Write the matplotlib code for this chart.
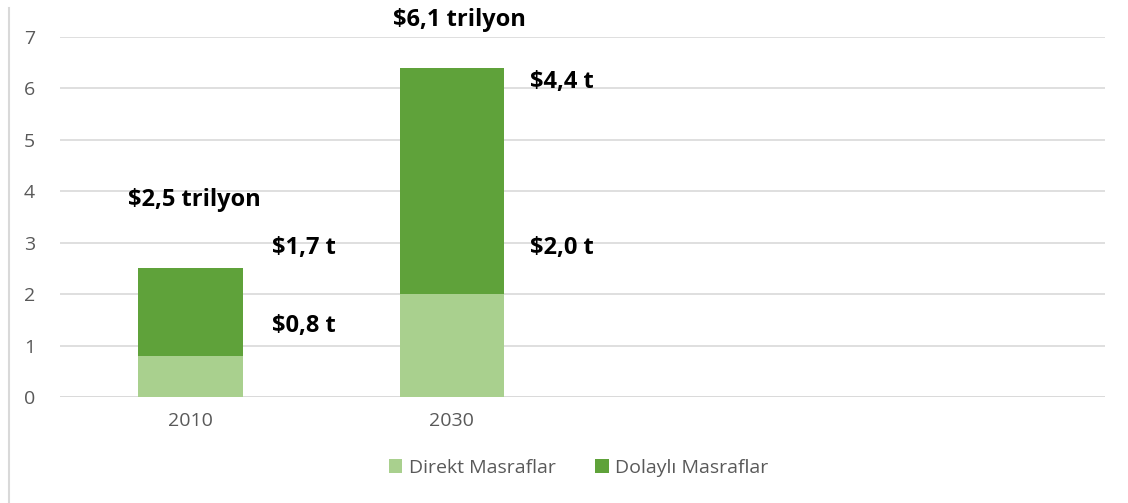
import matplotlib.pyplot as plt
import matplotlib.lines as mlines

# data
years = ['2010', '2030', '', '']
direkt = [0.8, 2.0]
dolayli = [1.7, 4.4]
total_labels = ['$2,5 trilyon', '$6,1 trilyon']
direkt_labels = ['$0,8 t', '$2,0 t']
dolayli_labels = ['$1,7 t', '$4,4 t']

c_light = '#A9D08E'
c_dark = '#5FA23A'
grid_c = '#D9D9D9'
tick_c = '#595959'

plt.rcParams['font.family'] = ['Open Sans', 'DejaVu Sans']

fig = plt.figure(figsize=(11.28, 5.03), dpi=100)
ax = fig.add_axes([60/1128, 1-397/503, 1045/1128, 360/503])

x = list(range(len(direkt)))
ax.bar(x, direkt, width=0.4, color=c_light, zorder=2, label='Direkt Masraflar')
ax.bar(x, dolayli, width=0.4, bottom=direkt, color=c_dark, zorder=2, label='Dolaylı Masraflar')

ax.set_xlim(-0.5, len(years) - 0.5)
ax.set_ylim(0, 7)
ax.set_yticks(range(8))
ax.set_xticks(range(len(years)))
ax.set_xticklabels(years)
ax.yaxis.grid(True, color=grid_c, linewidth=1.2, zorder=0)
for s in ax.spines.values():
    s.set_visible(False)
ax.axhline(0, color=grid_c, linewidth=1.2, zorder=1)
ax.tick_params(axis='both', length=0, colors=tick_c, labelsize=14)
ax.tick_params(axis='y', pad=18)
ax.tick_params(axis='x', pad=11)

bold = dict(fontsize=17, fontweight='bold', color='black')
# label positions
ax.text(0.015, 3.83, total_labels[0], ha='center', va='center', **bold)
ax.text(1.03, 7.33, total_labels[1], ha='center', va='center', clip_on=False, **bold)
ax.text(0.31, 2.9, dolayli_labels[0], ha='left', va='center', **bold)
ax.text(0.31, 1.38, direkt_labels[0], ha='left', va='center', **bold)
ax.text(1.30, 6.13, dolayli_labels[1], ha='left', va='center', **bold)
ax.text(1.30, 2.9, direkt_labels[1], ha='left', va='center', **bold)

leg = fig.legend(loc='center', bbox_to_anchor=(0.513, 1-468/503), ncol=2, frameon=False,
                 fontsize=14, handlelength=0.7, handleheight=0.7, columnspacing=2.0,
                 handletextpad=0.35)
for t in leg.get_texts():
    t.set_color(tick_c)

# left border line
fig.add_artist(mlines.Line2D([9/1128, 9/1128], [0, 1-8/503], color=grid_c, linewidth=1.5))

fig.savefig('out.png', dpi=100)
